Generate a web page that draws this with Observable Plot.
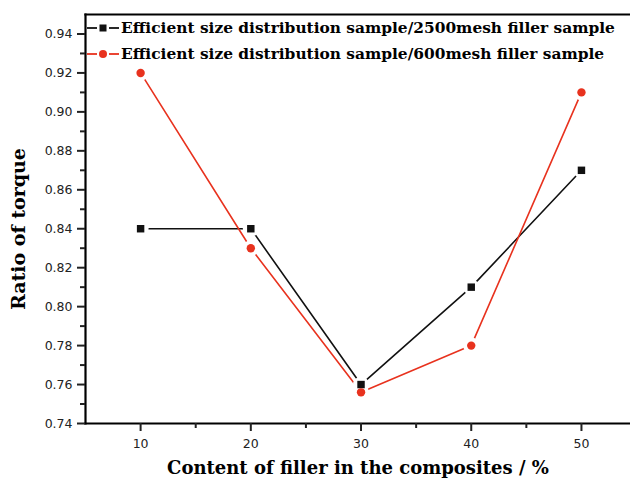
<!DOCTYPE html>
<html>
<head>
<meta charset="utf-8">
<script src="https://cdn.jsdelivr.net/npm/d3@7"></script>
<script src="https://cdn.jsdelivr.net/npm/@observablehq/plot@0.6"></script>
<style>
  html, body { margin: 0; padding: 0; background: #fff; }
  #wrap { position: relative; width: 630px; height: 487px; }
  #legend { position: absolute; left: 86px; top: 15px; font-family: "DejaVu Serif", serif; font-weight: bold; font-size: 15.4px; color: #000; line-height: 26px; }
  #legend .row { display: flex; align-items: center; white-space: nowrap; }
  #legend svg { display: block; margin-right: 1px; }
</style>
</head>
<body>
<div id="wrap"><div id="legend"></div></div>
<script>
const content = [10, 20, 30, 40, 50];
const ratio2500 = [0.84, 0.84, 0.76, 0.81, 0.87];
const ratio600 = [0.92, 0.83, 0.756, 0.78, 0.91];
const seriesNames = [
  "Efficient size distribution sample/2500mesh filler sample",
  "Efficient size distribution sample/600mesh filler sample"
];
const seriesColors = ["#111111", "#e8321e"];
const seriesSymbols = ["square", "circle"];
const yTicks = [0.74, 0.76, 0.78, 0.80, 0.82, 0.84, 0.86, 0.88, 0.90, 0.92, 0.94];
const yMinor = [0.75, 0.77, 0.79, 0.81, 0.83, 0.85, 0.87, 0.89, 0.91, 0.93];
const xTicks = [10, 20, 30, 40, 50];
const xMinor = [15, 25, 35, 45];

const rows = [];
[ratio2500, ratio600].forEach((vals, s) => {
  vals.forEach((v, i) => rows.push({series: seriesNames[s], x: content[i], y: v, s}));
});
const bySeries = s => rows.filter(d => d.s === s);

const chart = Plot.plot({
  width: 630,
  height: 487,
  marginLeft: 85,
  marginTop: 14,
  marginRight: 0,
  marginBottom: 64,
  style: {fontFamily: "DejaVu Sans, sans-serif", fontSize: "12.5px", color: "#222", background: "#fff", overflow: "visible"},
  x: {domain: [5, 54.45]},
  y: {domain: [0.74, 0.95]},
  marks: [
    Plot.line(bySeries(0), {x: "x", y: "y", stroke: seriesColors[0], strokeWidth: 1.6}),
    Plot.line(bySeries(1), {x: "x", y: "y", stroke: seriesColors[1], strokeWidth: 1.6}),
    Plot.dot(rows, {x: "x", y: "y", r: 8, fill: "#fff", stroke: "none"}),
    Plot.dot(bySeries(0), {x: "x", y: "y", symbol: "square", r: 4.2, fill: seriesColors[0], stroke: "none"}),
    Plot.dot(bySeries(1), {x: "x", y: "y", symbol: "circle", r: 4.2, fill: seriesColors[1], stroke: "none"}),
    Plot.frame({anchor: "top", stroke: "#000", strokeWidth: 2.2}),
    Plot.frame({anchor: "left", stroke: "#000", strokeWidth: 2.2}),
    Plot.frame({anchor: "bottom", stroke: "#000", strokeWidth: 2.2}),
    Plot.axisY(yTicks, {tickSize: 8, tickPadding: 5, tickFormat: d3.format(".2f"), strokeWidth: 2, label: null, fontSize: 12.5}),
    Plot.axisY(yMinor, {tickSize: 5, text: null, strokeWidth: 2, label: null}),
    Plot.axisX(xTicks, {tickSize: 8, tickPadding: 8, strokeWidth: 2, label: null, fontSize: 12.5}),
    Plot.axisX(xMinor, {tickSize: 5, text: null, strokeWidth: 2, label: null}),
    Plot.text(["Content of filler in the composites / %"], {frameAnchor: "bottom", dy: 50, fontFamily: "DejaVu Serif, serif", fontWeight: "bold", fontSize: 18, fill: "#000", text: d => d}),
    Plot.text(["Ratio of torque"], {frameAnchor: "left", dx: -67, dy: 10, rotate: -90, textAnchor: "middle", fontFamily: "DejaVu Serif, serif", fontWeight: "bold", fontSize: 19, fill: "#000", text: d => d})
  ]
});
document.getElementById("wrap").prepend(chart);

const legend = d3.select("#legend");
seriesNames.forEach((name, s) => {
  const row = legend.append("div").attr("class", "row");
  const sw = row.append("svg").attr("width", 34).attr("height", 14);
  sw.append("line").attr("x1", 1).attr("x2", 11).attr("y1", 7).attr("y2", 7)
    .attr("stroke", seriesColors[s]).attr("stroke-width", 1.8);
  sw.append("line").attr("x1", 23).attr("x2", 33).attr("y1", 7).attr("y2", 7)
    .attr("stroke", seriesColors[s]).attr("stroke-width", 1.8);
  if (seriesSymbols[s] === "square") {
    sw.append("rect").attr("x", 13.5).attr("y", 3.5).attr("width", 7).attr("height", 7).attr("fill", seriesColors[s]);
  } else {
    sw.append("circle").attr("cx", 17).attr("cy", 7).attr("r", 4).attr("fill", seriesColors[s]);
  }
  row.append("span").text(name);
});
</script>
</body>
</html>
